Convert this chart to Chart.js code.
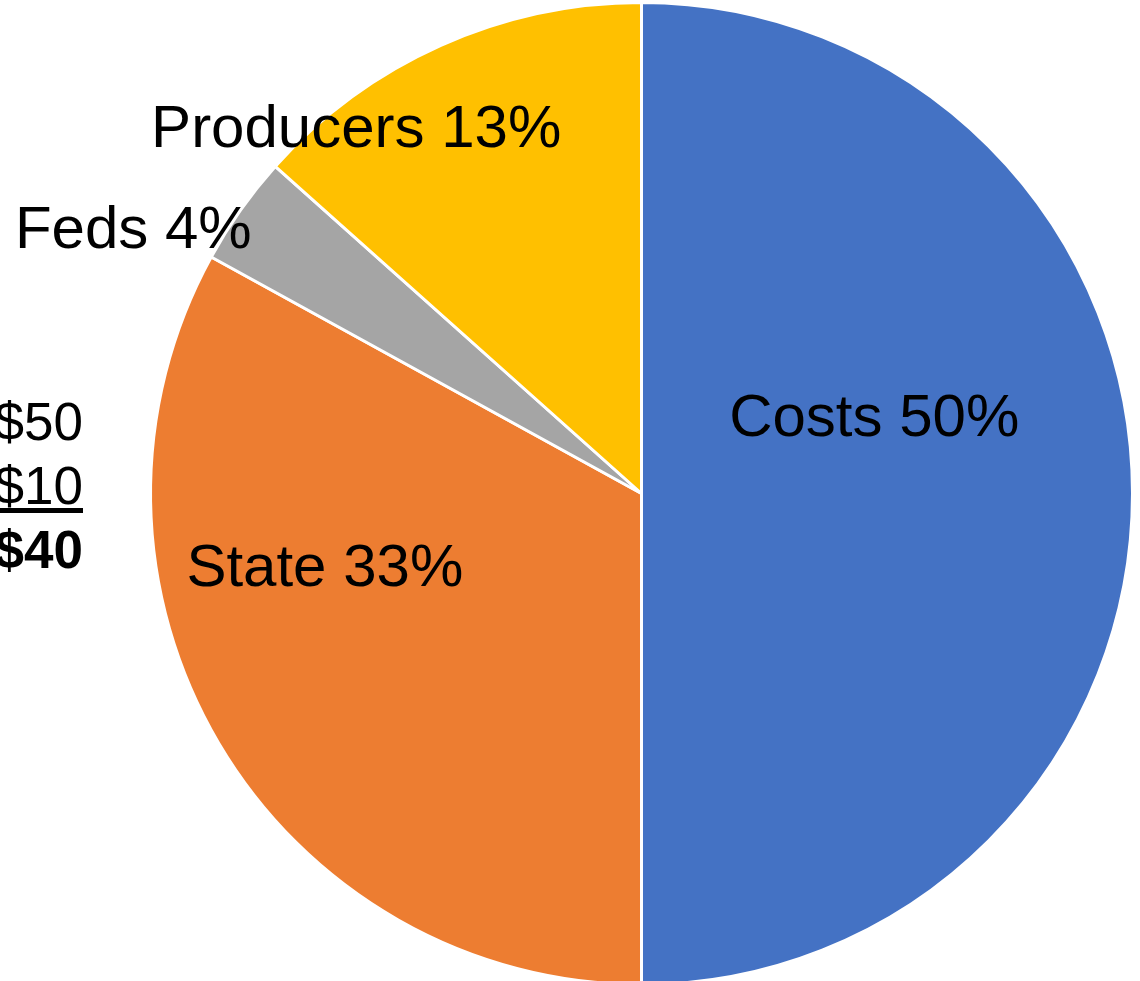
<!DOCTYPE html>
<html>
<head>
<meta charset="utf-8">
<script src="https://cdn.jsdelivr.net/npm/chart.js@4/dist/chart.umd.min.js"></script>
<style>
  html, body { margin: 0; padding: 0; background: #fff; overflow: hidden; }
  #wrap { position: absolute; left: 0; top: 0; width: 1140px; height: 990px; }
  .side { position: absolute; right: calc(1140px - 83px); font-family: "Liberation Sans", Arial, sans-serif;
          font-size: 53px; line-height: 53px; color: #000; white-space: nowrap; }
</style>
</head>
<body>
<div id="wrap"><canvas id="pie"></canvas></div>
<div class="side" style="top:395px">$50</div>
<div class="side" style="top:459px;text-decoration:underline;text-underline-offset:4px">$10</div>
<div class="side" style="top:523px;font-weight:bold">$40</div>
<script>
  var labels = ['Costs', 'State', 'Feds', 'Producers'];
  var values = [50, 33, 3.6, 13.4];
  var colors = ['#4472C4', '#ED7D31', '#A5A5A5', '#FFC000'];

  // label spots relative to pie centre, as share of the radius
  var labelSpots = [[0.474, -0.150], [-0.645, 0.154], [-1.035, -0.534], [-0.581, -0.739]];

  var sliceLabels = {
    id: 'sliceLabels',
    afterDatasetsDraw: function (chart) {
      var ctx = chart.ctx;
      var meta = chart.getDatasetMeta(0);
      var total = values.reduce(function (a, b) { return a + b; }, 0);
      ctx.save();
      ctx.font = '60px "Liberation Sans", Arial, sans-serif';
      ctx.fillStyle = '#000';
      ctx.textAlign = 'center';
      ctx.textBaseline = 'middle';
      meta.data.forEach(function (arc, i) {
        var r = arc.outerRadius;
        var x = arc.x + labelSpots[i][0] * r;
        var y = arc.y + labelSpots[i][1] * r;
        ctx.fillText(labels[i] + ' ' + Math.round(values[i] / total * 100) + '%', x, y);
      });
      ctx.restore();
    }
  };

  var ctx = document.getElementById('pie').getContext('2d');
  window.myPie = new Chart(ctx, {
    type: 'pie',
    data: {
      labels: labels,
      datasets: [{
        data: values,
        backgroundColor: colors,
        borderColor: '#fff',
        borderWidth: 3
      }]
    },
    options: {
      responsive: true,
      maintainAspectRatio: false,
      animation: false,
      layout: { padding: { left: 149, right: 6, top: 1, bottom: 4 } },
      plugins: { legend: { display: false }, tooltip: { enabled: false } }
    },
    plugins: [sliceLabels]
  });
</script>
</body>
</html>
